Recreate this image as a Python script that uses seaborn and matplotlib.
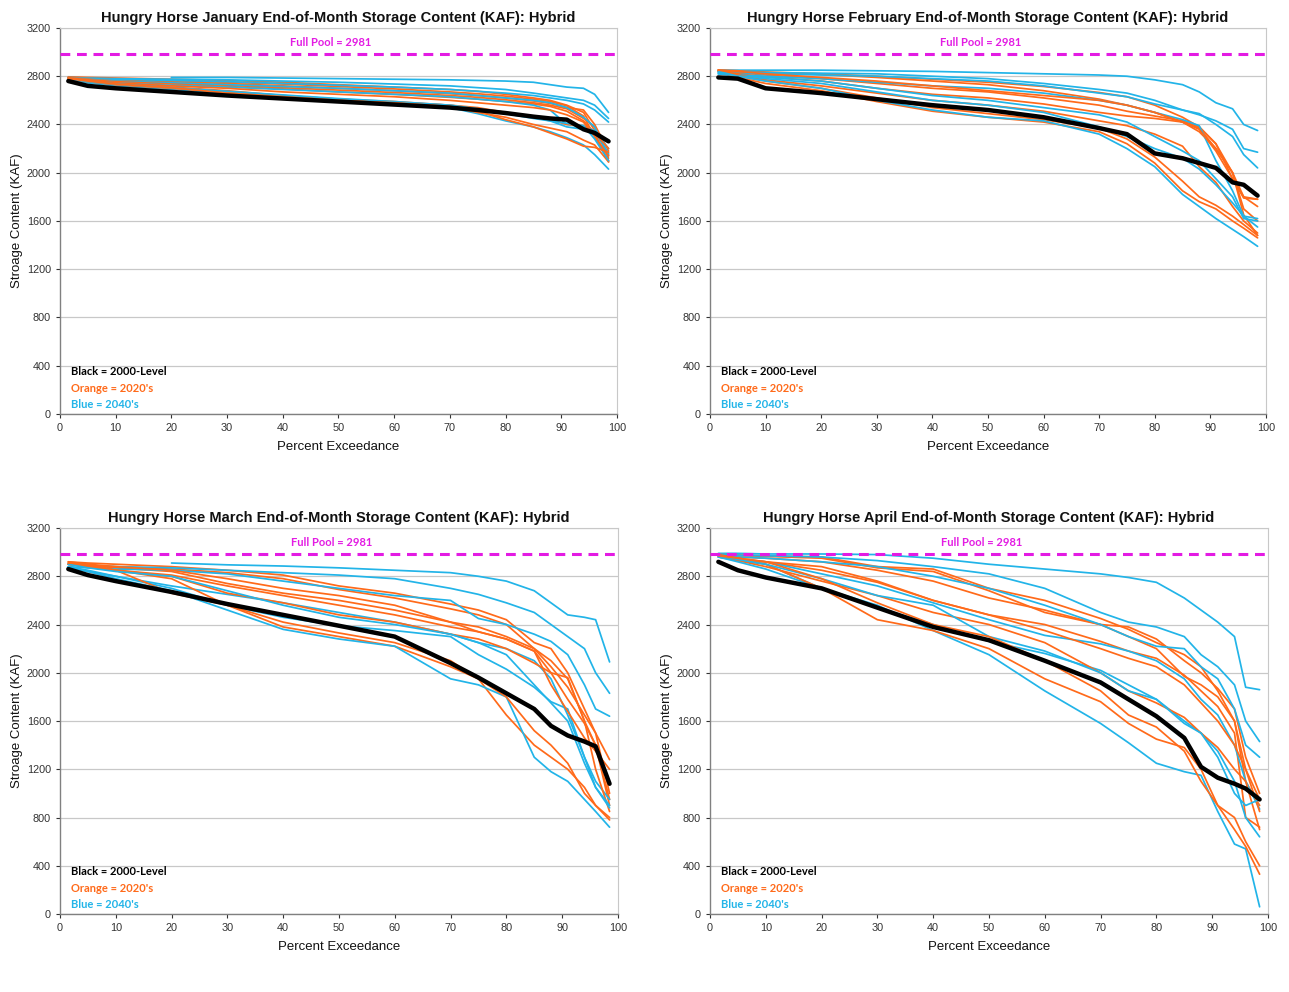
import numpy as np
import pandas as pd
import matplotlib
matplotlib.use("Agg")
import matplotlib.pyplot as plt
import seaborn as sns

nan = np.nan

# ---------------- data ----------------
months = ["January", "February", "March", "April"]
exceedance = [1.5, 5, 10, 20, 30, 40, 50, 60, 70, 75, 80, 85, 88, 91, 94, 96, 98.5]
full_pool = 2981

jan_black = [2760, 2720, 2700, 2670, 2640, 2615, 2590, 2565, 2540, 2520, 2495, 2465, 2450, 2440, 2360, 2330, 2260]
jan_orange = [
    [2795, 2790, 2785, 2775, 2765, 2750, 2730, 2710, 2690, 2675, 2650, 2620, 2600, 2560, 2500, 2350, 2150],
    [2790, 2785, 2775, 2765, 2750, 2735, 2715, 2695, 2670, 2655, 2635, 2610, 2590, 2555, 2470, 2300, 2100],
    [2790, 2780, 2770, 2755, 2740, 2720, 2700, 2680, 2655, 2640, 2620, 2595, 2575, 2540, 2520, 2400, 2180],
    [2785, 2775, 2760, 2745, 2725, 2705, 2685, 2665, 2640, 2625, 2605, 2580, 2560, 2530, 2450, 2380, 2120],
    [2785, 2770, 2755, 2735, 2715, 2695, 2670, 2650, 2625, 2610, 2590, 2570, 2550, 2510, 2430, 2330, 2090],
    [2780, 2765, 2745, 2720, 2700, 2670, 2650, 2630, 2600, 2580, 2560, 2540, 2520, 2480, 2420, 2300, 2140],
    [2780, 2760, 2740, 2710, 2680, 2640, 2610, 2590, 2560, 2540, 2500, 2470, 2440, 2400, 2390, 2330, 2200],
    [2775, 2755, 2730, 2700, 2670, 2620, 2590, 2575, 2545, 2500, 2460, 2400, 2370, 2340, 2270, 2230, 2090],
    [2780, 2760, 2735, 2705, 2660, 2630, 2600, 2580, 2550, 2510, 2440, 2380, 2330, 2280, 2220, 2210, 2170],
]
jan_blue = [
    [nan, nan, nan, 2790, 2790, 2785, 2780, 2775, 2770, 2765, 2760, 2750, 2730, 2710, 2700, 2650, 2500],
    [2790, 2785, 2780, 2775, 2770, 2760, 2750, 2735, 2720, 2705, 2690, 2660, 2640, 2620, 2600, 2560, 2450],
    [2785, 2780, 2775, 2765, 2755, 2740, 2725, 2710, 2690, 2675, 2660, 2640, 2620, 2600, 2570, 2520, 2420],
    [2780, 2770, 2760, 2745, 2730, 2715, 2700, 2680, 2660, 2640, 2620, 2600, 2580, 2540, 2460, 2380, 2140],
    [2775, 2760, 2745, 2725, 2710, 2690, 2670, 2650, 2630, 2610, 2590, 2560, 2520, 2400, 2380, 2350, 2200],
    [2770, 2750, 2730, 2700, 2670, 2640, 2610, 2585, 2560, 2530, 2490, 2450, 2430, 2380, 2360, 2340, 2160],
    [2770, 2745, 2720, 2690, 2660, 2630, 2600, 2575, 2540, 2490, 2430, 2380, 2340, 2290, 2230, 2150, 2030],
    [2775, 2755, 2735, 2705, 2675, 2645, 2615, 2590, 2560, 2530, 2500, 2460, 2430, 2410, 2390, 2280, 2100],
]

feb_black = [2790, 2780, 2700, 2660, 2610, 2560, 2520, 2460, 2370, 2320, 2160, 2120, 2080, 2040, 1920, 1900, 1810]
feb_orange = [
    [2850, 2845, 2835, 2820, 2800, 2775, 2750, 2715, 2665, 2630, 2560, 2460, 2380, 2240, 2000, 1800, 1780],
    [2850, 2845, 2830, 2815, 2790, 2760, 2730, 2680, 2610, 2560, 2500, 2420, 2340, 2200, 2000, 1700, 1600],
    [2845, 2830, 2810, 2780, 2740, 2700, 2670, 2620, 2560, 2510, 2470, 2430, 2380, 2240, 1950, 1800, 1720],
    [2840, 2820, 2795, 2760, 2700, 2650, 2620, 2570, 2500, 2470, 2450, 2420, 2370, 2200, 2000, 1650, 1480],
    [2850, 2810, 2770, 2720, 2660, 2600, 2560, 2510, 2430, 2390, 2320, 2220, 2050, 1920, 1720, 1600, 1500],
    [2840, 2790, 2740, 2680, 2590, 2510, 2460, 2420, 2340, 2240, 2080, 1850, 1760, 1700, 1600, 1540, 1460],
    [2850, 2800, 2760, 2700, 2620, 2540, 2490, 2440, 2370, 2280, 2130, 1930, 1800, 1730, 1640, 1570, 1480],
    [2850, 2840, 2820, 2790, 2760, 2720, 2680, 2640, 2600, 2560, 2500, 2420, 2360, 2180, 1950, 1790, 1780],
]
feb_blue = [
    [2850, 2850, 2850, 2850, 2845, 2840, 2830, 2820, 2810, 2800, 2770, 2730, 2670, 2580, 2530, 2400, 2350],
    [2840, 2835, 2830, 2825, 2820, 2800, 2780, 2740, 2690, 2660, 2600, 2520, 2480, 2430, 2360, 2200, 2170],
    [2830, 2825, 2820, 2810, 2800, 2780, 2760, 2720, 2660, 2630, 2570, 2520, 2490, 2400, 2300, 2150, 2040],
    [2820, 2810, 2800, 2780, 2750, 2720, 2700, 2660, 2600, 2560, 2500, 2440, 2390, 2100, 1850, 1640, 1550],
    [2820, 2800, 2790, 2760, 2700, 2640, 2600, 2540, 2480, 2420, 2300, 2180, 2100, 1950, 1800, 1620, 1600],
    [2830, 2800, 2780, 2740, 2670, 2600, 2560, 2500, 2380, 2300, 2200, 2120, 2030, 1900, 1750, 1640, 1620],
    [2840, 2800, 2760, 2700, 2600, 2520, 2460, 2430, 2320, 2200, 2050, 1820, 1720, 1620, 1530, 1470, 1390],
]

mar_black = [2860, 2810, 2760, 2670, 2570, 2480, 2390, 2300, 2080, 1960, 1830, 1700, 1560, 1480, 1430, 1390, 1080]
mar_orange = [
    [2920, 2910, 2900, 2880, 2850, 2810, 2720, 2660, 2570, 2520, 2440, 2250, 2200, 2000, 1700, 1500, 1280],
    [2900, 2890, 2880, 2860, 2830, 2780, 2690, 2620, 2530, 2480, 2400, 2200, 2100, 1950, 1600, 1400, 950],
    [2910, 2890, 2870, 2840, 2740, 2660, 2600, 2520, 2420, 2380, 2300, 2200, 2050, 1880, 1650, 1500, 1000],
    [2900, 2880, 2850, 2810, 2720, 2640, 2560, 2480, 2380, 2340, 2280, 2180, 2000, 1780, 1580, 1400, 900],
    [2900, 2880, 2850, 2800, 2660, 2580, 2480, 2420, 2320, 2280, 2200, 2080, 2000, 1960, 1600, 1200, 850],
    [2920, 2900, 2850, 2660, 2560, 2380, 2300, 2220, 2050, 1950, 1650, 1400, 1300, 1200, 1050, 900, 800],
    [2900, 2880, 2850, 2780, 2560, 2420, 2330, 2250, 2100, 1950, 1800, 1520, 1400, 1250, 1000, 900, 780],
    [2910, 2900, 2880, 2850, 2780, 2700, 2640, 2560, 2420, 2340, 2280, 2180, 1900, 1680, 1460, 1350, 1200],
]
mar_blue = [
    [nan, nan, nan, 2910, 2895, 2885, 2870, 2850, 2830, 2800, 2760, 2680, 2580, 2480, 2460, 2440, 2090],
    [2900, 2890, 2880, 2870, 2850, 2830, 2810, 2780, 2700, 2650, 2580, 2500, 2400, 2300, 2200, 2000, 1830],
    [2880, 2870, 2860, 2850, 2820, 2760, 2700, 2640, 2600, 2450, 2400, 2320, 2260, 2150, 1900, 1700, 1640],
    [2870, 2840, 2800, 2720, 2650, 2580, 2500, 2420, 2320, 2250, 2200, 2100, 1950, 1650, 1300, 1100, 950],
    [2880, 2850, 2800, 2700, 2560, 2460, 2390, 2350, 2300, 2150, 2030, 1880, 1760, 1700, 1300, 1050, 880],
    [2880, 2840, 2780, 2680, 2520, 2360, 2280, 2220, 1950, 1900, 1800, 1300, 1180, 1100, 950, 850, 720],
    [2900, 2870, 2840, 2800, 2680, 2560, 2460, 2400, 2320, 2250, 2150, 1900, 1750, 1600, 1250, 1050, 900],
]

apr_black = [2920, 2850, 2790, 2700, 2540, 2380, 2270, 2100, 1920, 1780, 1640, 1460, 1220, 1130, 1080, 1040, 950]
apr_orange = [
    [2980, 2975, 2970, 2960, 2880, 2860, 2700, 2600, 2450, 2360, 2250, 2150, 2050, 1850, 1600, 1100, 900],
    [2980, 2975, 2965, 2950, 2870, 2840, 2680, 2500, 2400, 2380, 2280, 2100, 2000, 1870, 1700, 1300, 1000],
    [2970, 2960, 2950, 2920, 2850, 2760, 2620, 2520, 2400, 2300, 2200, 1970, 1900, 1800, 1600, 1200, 950],
    [2960, 2940, 2920, 2850, 2750, 2600, 2480, 2400, 2260, 2180, 2120, 1980, 1850, 1720, 1500, 800, 720],
    [2970, 2950, 2920, 2880, 2760, 2600, 2480, 2350, 2200, 2120, 2050, 1900, 1750, 1600, 1400, 1200, 850],
    [2970, 2930, 2880, 2760, 2640, 2500, 2400, 2250, 2000, 1850, 1750, 1630, 1500, 1380, 1200, 1100, 700],
    [2980, 2950, 2900, 2700, 2440, 2350, 2200, 1950, 1760, 1580, 1450, 1380, 1200, 900, 800, 600, 400],
    [2970, 2950, 2920, 2780, 2580, 2400, 2300, 2100, 1850, 1650, 1550, 1350, 1100, 900, 700, 560, 330],
]
apr_blue = [
    [2990, 2990, 2985, 2985, 2980, 2950, 2900, 2860, 2820, 2790, 2750, 2620, 2520, 2420, 2300, 1880, 1860],
    [2980, 2975, 2970, 2960, 2930, 2880, 2820, 2700, 2500, 2420, 2380, 2300, 2150, 2050, 1900, 1600, 1430],
    [2970, 2960, 2950, 2920, 2880, 2800, 2700, 2560, 2400, 2300, 2220, 2200, 2050, 1950, 1700, 1400, 1300],
    [2960, 2940, 2920, 2820, 2720, 2580, 2440, 2310, 2240, 2180, 2100, 1950, 1780, 1650, 1400, 1100, 870],
    [2960, 2930, 2900, 2700, 2540, 2400, 2260, 2160, 2020, 1900, 1780, 1600, 1500, 1350, 1100, 800, 640],
    [2960, 2920, 2860, 2700, 2560, 2350, 2150, 1850, 1580, 1420, 1250, 1180, 1150, 850, 580, 540, 60],
    [2970, 2940, 2900, 2780, 2640, 2560, 2300, 2180, 2000, 1850, 1780, 1580, 1500, 1300, 1000, 900, 950],
]

panels = [
    (jan_black, jan_orange, jan_blue),
    (feb_black, feb_orange, feb_blue),
    (mar_black, mar_orange, mar_blue),
    (apr_black, apr_orange, apr_blue),
]

# ---------------- style ----------------
sns.set_theme(style="white")
plt.rcParams["font.family"] = ["Liberation Sans", "DejaVu Sans"]

ORANGE = "#FF6A1A"
BLUE = "#22B4E8"
MAGENTA = "#E31BE3"
label_font = ["Lato", "DejaVu Sans"]

fig = plt.figure(figsize=(12.89, 9.92), dpi=100)
fig.patch.set_facecolor("white")
positions = [
    [0.0465, 0.5827, 0.4321, 0.3891],
    [0.5508, 0.5827, 0.4313, 0.3891],
    [0.0465, 0.0786, 0.4329, 0.3891],
    [0.5508, 0.0786, 0.4329, 0.3891],
]

for i, (month, (black, orange, blue)) in enumerate(zip(months, panels)):
    ax = fig.add_axes(positions[i])
    # interleave orange and blue so neither family hides the other
    n = max(len(orange), len(blue))
    for k in range(n):
        for group, color in ((orange, ORANGE), (blue, BLUE)):
            if k < len(group):
                df = pd.DataFrame({"x": exceedance, "y": group[k]}).dropna()
                sns.lineplot(data=df, x="x", y="y", color=color, lw=1.25, ax=ax,
                             estimator=None, sort=False)
    df = pd.DataFrame({"x": exceedance, "y": black})
    sns.lineplot(data=df, x="x", y="y", color="black", lw=3.2, ax=ax,
                 estimator=None, sort=False)

    ax.axhline(full_pool, color=MAGENTA, lw=2.2, ls=(0, (3.2, 2.2)), zorder=5)
    ax.text(48.7, full_pool + 55, f"Full Pool = {full_pool}", color=MAGENTA,
            fontsize=8, fontweight="bold", family=label_font,
            ha="center", va="bottom")

    ax.text(2.0, 355, "Black = 2000-Level", color="black", fontsize=8,
            fontweight="bold", family=label_font, va="center")
    ax.text(2.0, 215, "Orange = 2020's", color=ORANGE, fontsize=8,
            fontweight="bold", family=label_font, va="center")
    ax.text(2.0, 80, "Blue = 2040's", color=BLUE, fontsize=8,
            fontweight="bold", family=label_font, va="center")

    ax.set_xlim(0, 100)
    ax.set_ylim(0, 3200)
    ax.set_xticks(range(0, 101, 10))
    ax.set_yticks(range(0, 3201, 400))
    ax.yaxis.grid(True, color="#c8c8c8", lw=0.9)
    ax.xaxis.grid(False)
    ax.tick_params(axis="both", labelsize=7.8, colors="#333333", length=3,
                   width=0.8, direction="out", bottom=True, left=True)
    for side in ["left", "bottom"]:
        ax.spines[side].set_color("#808080")
        ax.spines[side].set_linewidth(1.0)
    for side in ["right", "top"]:
        ax.spines[side].set_color("#c8c8c8")
        ax.spines[side].set_linewidth(0.8)

    ax.set_title(f"Hungry Horse {month} End-of-Month Storage Content (KAF): Hybrid",
                 fontsize=10.5, fontweight="bold", color="#111111", pad=4)
    ax.set_xlabel("Percent Exceedance", fontsize=9.5, color="#111111", labelpad=6)
    ax.set_ylabel("Stroage Content (KAF)", fontsize=9.5, color="#111111", labelpad=3)

fig.savefig("out.png", dpi=100, facecolor="white")
